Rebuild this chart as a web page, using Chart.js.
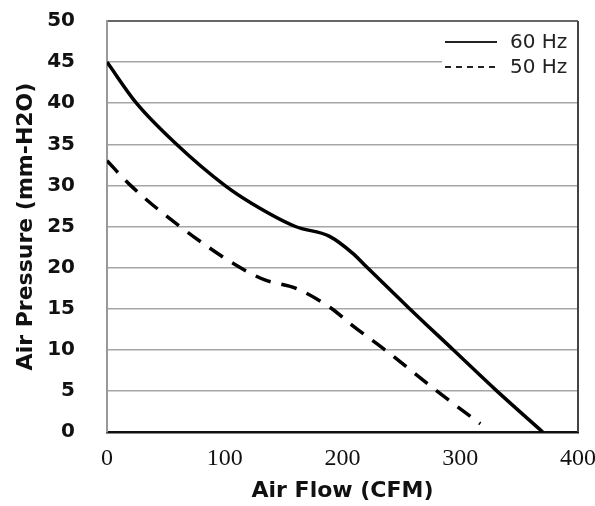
<!DOCTYPE html>
<html>
<head>
<meta charset="utf-8">
<script src="https://cdn.jsdelivr.net/npm/chart.js@4/dist/chart.umd.min.js"></script>
<style>
  html, body { margin: 0; padding: 0; background: #fff; }
  #wrap { width: 595px; height: 506px; }
</style>
</head>
<body>
<div id="wrap"><canvas id="c" width="595" height="506"></canvas></div>
<script>
const seriesLabels = ['60 Hz', '50 Hz'];
const flow60 = [0, 25, 59, 100, 123, 160, 189, 209, 221, 257, 294, 331, 370];
const pressure60 = [45, 40, 35, 30, 27.8, 25, 23.8, 21.7, 20, 15, 10, 5, 0];
const flow50 = [0, 20, 62, 113, 134, 160, 191, 208, 236, 280, 317];
const pressure50 = [33, 30, 25, 20, 18.5, 17.5, 15, 13, 10, 5, 1];
const xTitle = 'Air Flow (CFM)';
const yTitle = 'Air Pressure (mm-H2O)';

const toPts = (xs, ys) => xs.map((x, i) => ({ x: x, y: ys[i] }));

const framePlugin = {
  id: 'frame',
  beforeDatasetsDraw(chart) {
    const { ctx, chartArea: a } = chart;
    ctx.save();
    ctx.strokeStyle = '#444';
    ctx.lineWidth = 2;
    ctx.beginPath();
    ctx.moveTo(a.right, a.top);
    ctx.lineTo(a.right, a.bottom);
    ctx.stroke();
    ctx.restore();
  }
};

const legendPlugin = {
  id: 'insideLegend',
  afterDatasetsDraw(chart) {
    const { ctx, chartArea: a } = chart;
    ctx.save();
    ctx.fillStyle = '#fff';
    ctx.fillRect(a.right - 136, a.top + 7, 135, 47);
    chart.data.datasets.forEach((ds, i) => {
      const y = a.top + 21 + i * 25;
      ctx.strokeStyle = '#222';
      ctx.lineWidth = 2;
      ctx.setLineDash(ds.borderDash && ds.borderDash.length ? [6, 5] : []);
      ctx.beginPath();
      ctx.moveTo(a.right - 133, y);
      ctx.lineTo(a.right - 81, y);
      ctx.stroke();
      ctx.setLineDash([]);
      ctx.fillStyle = '#222';
      ctx.font = '20px "DejaVu Sans"';
      ctx.textBaseline = 'middle';
      ctx.textAlign = 'left';
      ctx.fillText(ds.label, a.right - 68, y + 1);
    });
    ctx.restore();
  }
};

new Chart(document.getElementById('c'), {
  type: 'line',
  data: {
    datasets: [
      {
        label: seriesLabels[0],
        data: toPts(flow60, pressure60),
        borderColor: '#000',
        borderWidth: 3.5,
        pointRadius: 0,
        fill: false,
        cubicInterpolationMode: 'monotone'
      },
      {
        label: seriesLabels[1],
        data: toPts(flow50, pressure50),
        borderColor: '#000',
        borderWidth: 3.5,
        borderDash: [16, 11],
        pointRadius: 0,
        fill: false,
        cubicInterpolationMode: 'monotone'
      }
    ]
  },
  options: {
    responsive: false,
    animation: false,
    layout: { padding: { top: 21, right: 17, left: 0, bottom: 0 } },
    plugins: {
      legend: { display: false },
      tooltip: { enabled: false }
    },
    scales: {
      x: {
        type: 'linear',
        min: 0,
        max: 400,
        ticks: {
          stepSize: 100,
          padding: 12,
          color: '#111',
          font: { family: '"Liberation Serif", serif', size: 24 }
        },
        grid: { display: false, drawTicks: false },
        border: { display: true, color: '#111', width: 2.5 },
        title: {
          display: true,
          text: xTitle,
          color: '#111',
          font: { family: '"DejaVu Sans", sans-serif', size: 22, weight: 'bold' },
          padding: { top: 0, bottom: 2 }
        },
        afterFit(scale) {
          scale.height = 74;
          scale.paddingLeft = 0;
          scale.paddingRight = 0;
        }
      },
      y: {
        type: 'linear',
        min: 0,
        max: 50,
        ticks: {
          stepSize: 5,
          padding: 32,
          color: '#111',
          font: { family: '"DejaVu Sans", sans-serif', size: 20, weight: 'bold' }
        },
        grid: {
          drawTicks: false,
          color: (c) => (c.tick && c.tick.value === 50 ? '#666' : '#a6a6a6'),
          lineWidth: (c) => (c.tick && c.tick.value === 50 ? 2 : 1.5)
        },
        border: { display: true, color: '#999', width: 2 },
        title: {
          display: true,
          text: yTitle,
          color: '#111',
          font: { family: '"DejaVu Sans", sans-serif', size: 22, weight: 'bold' },
          padding: { top: 13, bottom: 0 }
        },
        afterFit(scale) {
          scale.width = 107;
          scale.paddingTop = 0;
          scale.paddingBottom = 0;
        }
      }
    }
  },
  plugins: [framePlugin, legendPlugin]
});
</script>
</body>
</html>
